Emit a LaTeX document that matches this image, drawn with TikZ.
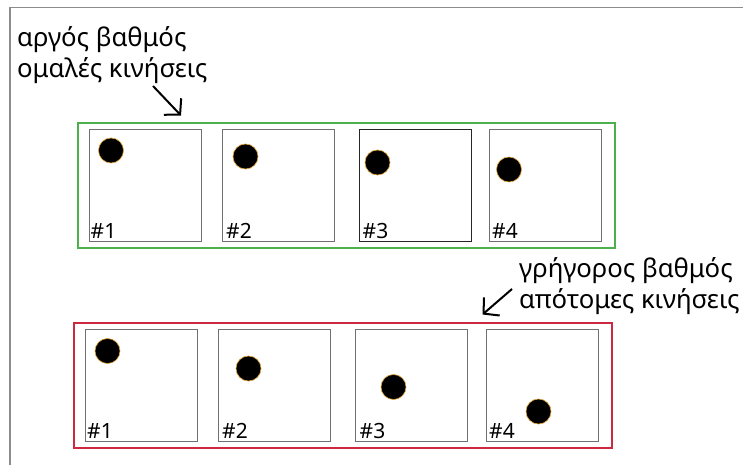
\documentclass[tikz,border=0pt]{standalone}
\usepackage{fontspec}
\setmainfont{Noto Sans}
\usetikzlibrary{arrows.meta}
\definecolor{framegray}{HTML}{8C8C8C}
\definecolor{sqgray}{HTML}{707070}
\definecolor{grn}{HTML}{4CB04C}
\definecolor{rd}{HTML}{CC2940}
\definecolor{dotrim}{HTML}{E0A030}
\tikzset{
  panel/.style={draw, line width=1.8pt, minimum width=#1, anchor=north west, inner sep=0pt},
  sq/.style={draw=sqgray, line width=1.3pt, anchor=north west, minimum width=112pt, minimum height=112pt, inner sep=0pt},
  ball/.style={circle, fill=black, draw=dotrim, line width=0.6pt, minimum size=25pt, inner sep=0pt},
  num/.style={anchor=base west, font=\fontsize{21}{21}\selectfont, inner sep=0pt},
  captext/.style={align=left, anchor=base west, font=\fontsize{25.7}{31}\selectfont, inner sep=0pt},
  pointer/.style={line width=2pt, -{Straight Barb[length=11pt,width=24pt,line width=2pt]}}
}
\begin{document}
\begin{tikzpicture}[x=1pt,y=-1pt]
\useasboundingbox (0,0) rectangle (743,465);
\fill[white] (0,0) rectangle (743,465);
% frame
\draw[framegray, line width=1.8pt] (10,465) -- (10,7.5) -- (743,7.5);
% captions (anchored at the baseline of their last line)
\node[captext] (t1) at (17,78) {αργός βαθμός\\ομαλές κινήσεις};
\node[captext] (t2) at (519,308) {γρήγορος βαθμός\\απότομες κινήσεις};
% panels
\node[panel=537pt, minimum height=125pt, draw=grn] (g) at (77,122) {};
\node[panel=538pt, minimum height=125pt, draw=rd] (r) at (73,322) {};
% upper squares
\node[sq] (a1) at (88.5,129) {};
\node[sq] (a2) at (222,129) {};
\node[sq, draw=black!85] (a3) at (358.5,129) {};
\node[sq] (a4) at (489,129) {};
% lower squares
\node[sq] (b1) at (85,329) {};
\node[sq] (b2) at (218,329) {};
\node[sq] (b3) at (354.5,329) {};
\node[sq] (b4) at (485.5,329) {};
% balls
\node[ball] (p1) at (111,150.5) {};
\node[ball] (p2) at (245.5,156.5) {};
\node[ball] (p3) at (377.5,162.5) {};
\node[ball] (p4) at (509,169.5) {};
\node[ball] (q1) at (107.5,351) {};
\node[ball] (q2) at (248.5,368.5) {};
\node[ball] (q3) at (393.5,387) {};
\node[ball] (q4) at (538.5,411.5) {};
% numbers
\node[num] (na1) at (90.5,238) {\#1};
\node[num] (na2) at (226,238) {\#2};
\node[num] (na3) at (362.5,238) {\#3};
\node[num] (na4) at (492,238) {\#4};
\node[num] (nb1) at (87,438) {\#1};
\node[num] (nb2) at (222,438) {\#2};
\node[num] (nb3) at (359.5,438) {\#3};
\node[num] (nb4) at (489,438) {\#4};
% arrows
\coordinate (s1) at (153,86);
\coordinate (e1) at (181,115.5);
\coordinate (s2) at (512,289);
\coordinate (e2) at (482.5,314.5);
\draw[pointer] (s1) -- (e1);
\draw[pointer] (s2) -- (e2);
\end{tikzpicture}
\end{document}
